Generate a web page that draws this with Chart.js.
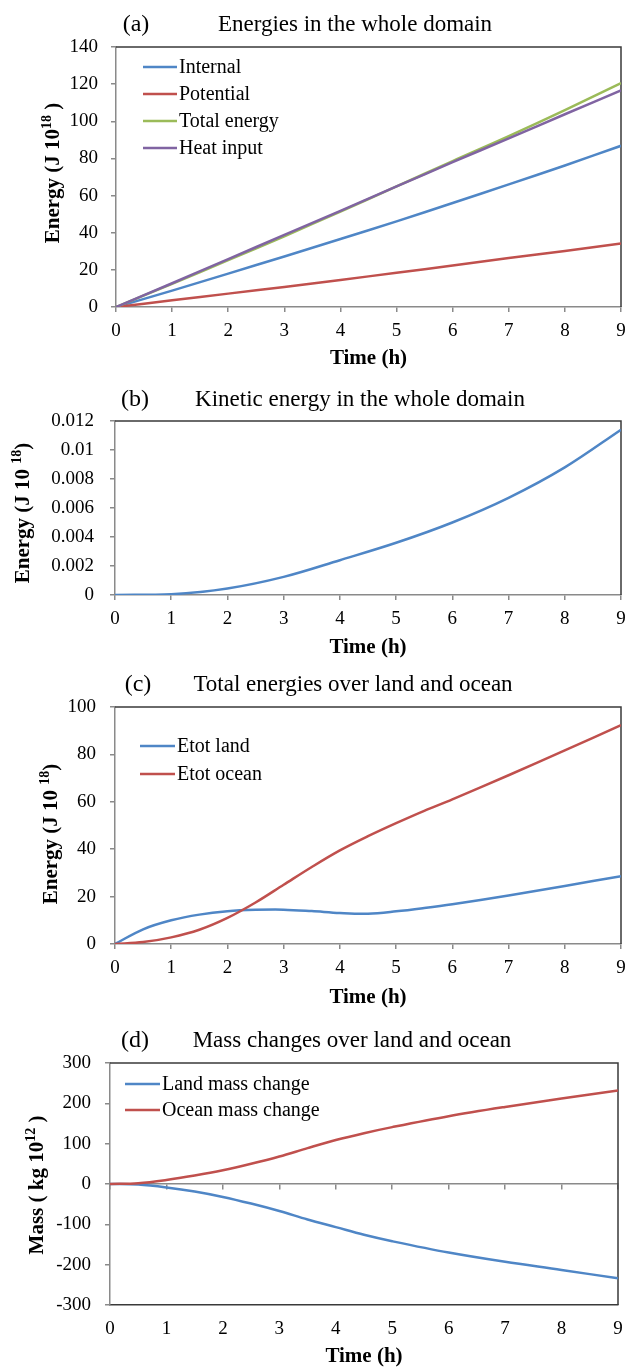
<!DOCTYPE html>
<html>
<head>
<meta charset="utf-8">
<title>Energy and mass budgets</title>
<script src="https://cdn.jsdelivr.net/npm/chart.js@4.4.1/dist/chart.umd.min.js"></script>
<style>
  html, body { margin: 0; padding: 0; background: #fff; }
  body { width: 627px; height: 1368px; position: relative; overflow: hidden; }
  .panel { position: absolute; left: 0; width: 627px; }
  .panel canvas { display: block; }
</style>
</head>
<body>
<div class="panel" style="top:0px;height:375px"><canvas id="chartA"></canvas></div>
<div class="panel" style="top:375px;height:290px"><canvas id="chartB"></canvas></div>
<div class="panel" style="top:665px;height:345px"><canvas id="chartC"></canvas></div>
<div class="panel" style="top:1010px;height:358px"><canvas id="chartD"></canvas></div>
<script>
// ---- data ----------------------------------------------------------------
const hours = [0, 1, 2, 3, 4, 5, 6, 7, 8, 9];

// (a) energies in the whole domain, J 10^18
const internalEnergy  = [0, 8.8, 18.0, 27.2, 36.6, 46.1, 56.0, 66.0, 76.2, 86.8];
const potentialEnergy = [0, 3.6, 7.2, 10.8, 14.6, 18.4, 22.3, 26.4, 30.2, 34.2];
const totalEnergy     = [0, 12.5, 25.2, 38.1, 51.4, 64.9, 78.6, 92.0, 106.0, 120.6];
const heatInput       = [0, 12.8, 25.8, 38.8, 51.8, 64.9, 78.0, 90.8, 103.8, 116.6];

// (b) kinetic energy in the whole domain, J 10^18
const kineticEnergy = [0, 0.00005, 0.00045, 0.00125, 0.0024, 0.0036, 0.0050, 0.0067, 0.0088, 0.0114];

// (c) total energies over land and ocean, J 10^18
const hoursLandOcean = [0, 0.5, 1, 1.5, 2, 2.5, 3, 3.5, 4, 4.5, 5, 5.5, 6, 7, 8, 9];
const etotLand  = [0, 6.2, 10.0, 12.4, 13.8, 14.4, 14.5, 13.9, 13.1, 12.8, 13.8, 15.2, 16.8, 20.5, 24.5, 28.6];
const etotOcean = [0, 0.8, 2.8, 6.0, 11.0, 17.5, 25.0, 32.5, 39.5, 45.5, 51.0, 56.2, 61.0, 71.2, 81.7, 92.3];

// (d) mass changes over land and ocean, kg 10^12
const hoursMass = [0, 0.5, 1, 1.5, 2, 2.5, 3, 3.5, 4, 4.5, 5, 6, 7, 8, 9];
const landMass  = [0, -1.5, -8.5, -18.5, -32, -48.5, -67, -88, -107, -126, -142, -170, -193, -213, -234];
const oceanMass = [0, 2, 10, 21, 34, 50, 68, 89, 109, 126, 141, 168, 191, 212, 232];

// tick values
const timeTicks    = [0, 1, 2, 3, 4, 5, 6, 7, 8, 9];
const energyTicks  = [0, 20, 40, 60, 80, 100, 120, 140];
const kineticTicks = [0, 0.002, 0.004, 0.006, 0.008, 0.01, 0.012];
const etotTicks    = [0, 20, 40, 60, 80, 100];
const massTicks    = [-300, -200, -100, 0, 100, 200, 300];

// ---- styling -------------------------------------------------------------
const BLUE = '#4F86C6', RED = '#C0504D', GREEN = '#9BBB59', PURPLE = '#8064A2';
const GREY = '#8a8a8a';
const FRAME = '#3a3a3a';
const SERIF = '"Liberation Serif", "Times New Roman", serif';
const TICK_FONT = { family: SERIF, size: 19 };

const pairs = (xs, ys) => xs.map((x, i) => ({ x: x, y: ys[i] }));

function series(label, xs, ys, color, order) {
  return {
    label: label,
    data: pairs(xs, ys),
    borderColor: color,
    backgroundColor: color,
    borderWidth: 2.5,
    pointRadius: 0,
    fill: false,
    tension: 0.35,
    order: order
  };
}

// Frame, titles, axis titles and in-plot legend
const decor = {
  id: 'decor',
  beforeDatasetsDraw(chart) {
    const ctx = chart.ctx, a = chart.chartArea;
    ctx.save();
    ctx.strokeStyle = FRAME;
    ctx.lineWidth = 1.5;
    ctx.beginPath();
    ctx.moveTo(a.left, a.top);
    ctx.lineTo(a.right, a.top);
    ctx.lineTo(a.right, a.bottom);
    ctx.stroke();
    ctx.restore();
  },
  afterDraw(chart) {
    const ctx = chart.ctx, a = chart.chartArea;
    const o = chart.options.plugins.decor;
    ctx.save();
    ctx.fillStyle = '#000';
    ctx.textBaseline = 'middle';

    // panel letter and title
    ctx.textAlign = 'center';
    ctx.font = '24px ' + SERIF;
    ctx.fillText(o.letter, o.letterX, o.titleY);
    ctx.font = '23px ' + SERIF;
    ctx.fillText(o.title, o.titleX, o.titleY);

    // x axis title
    ctx.font = 'bold 21px ' + SERIF;
    ctx.fillText('Time (h)', (a.left + a.right) / 2, o.xTitleY);

    // rotated y axis title with superscript
    ctx.translate(o.yTitleX, o.yTitleY);
    ctx.rotate(-Math.PI / 2);
    ctx.textAlign = 'left';
    ctx.textBaseline = 'alphabetic';
    let total = 0;
    const widths = o.yTitle.map(p => {
      ctx.font = 'bold ' + p.size + 'px ' + SERIF;
      const w = ctx.measureText(p.text).width;
      total += w;
      return w;
    });
    let x = -total / 2;
    const base = 7;
    o.yTitle.forEach((p, i) => {
      ctx.font = 'bold ' + p.size + 'px ' + SERIF;
      ctx.fillText(p.text, x, base - (p.rise || 0));
      x += widths[i];
    });
    ctx.setTransform(1, 0, 0, 1, 0, 0);

    // legend
    if (o.legend) {
      const L = o.legend;
      ctx.font = '20px ' + SERIF;
      ctx.textAlign = 'left';
      ctx.textBaseline = 'middle';
      chart.data.datasets.forEach((ds, i) => {
        const y = a.top + L.dy + i * L.gap;
        const x0 = a.left + L.dx;
        ctx.strokeStyle = ds.borderColor;
        ctx.lineWidth = 2.5;
        ctx.beginPath();
        ctx.moveTo(x0, y);
        ctx.lineTo(x0 + L.len, y);
        ctx.stroke();
        ctx.fillStyle = '#000';
        ctx.fillText(ds.label, x0 + L.len + 2, y + 1);
      });
    }
    ctx.restore();
  }
};

function axisScales(spec) {
  const gridOpts = { drawOnChartArea: false, drawTicks: true, tickLength: 5, color: GREY, lineWidth: 1.5 };
  const scales = {
    x: {
      type: 'linear', position: 'bottom', min: 0, max: 9,
      afterBuildTicks: s => { s.ticks = timeTicks.map(v => ({ value: v })); },
      afterFit: s => { s.height = spec.xH; s.paddingLeft = 0; s.paddingRight = 0; },
      grid: Object.assign({}, gridOpts, { drawTicks: !spec.zeroAxis }),
      border: { color: spec.zeroAxis ? FRAME : GREY, width: 1.5 },
      ticks: {
        padding: spec.zeroAxis ? 13 : 8, font: TICK_FONT, color: '#000',
        autoSkip: false, maxRotation: 0, callback: v => String(v)
      }
    },
    y: {
      type: 'linear', position: 'left',
      min: spec.yTicks[0], max: spec.yTicks[spec.yTicks.length - 1],
      afterBuildTicks: s => { s.ticks = spec.yTicks.map(v => ({ value: v })); },
      afterFit: s => { s.width = spec.yW; s.paddingTop = 0; s.paddingBottom = 0; },
      grid: gridOpts,
      border: { color: GREY, width: 1.5 },
      ticks: {
        padding: spec.yPad, font: TICK_FONT, color: '#000', autoSkip: false,
        callback: spec.yFmt || (v => String(v))
      }
    }
  };
  if (spec.zeroAxis) {
    // horizontal axis line through zero with downward tick marks
    scales.x2 = {
      type: 'linear', axis: 'x', position: { y: 0 }, min: 0, max: 9,
      afterBuildTicks: s => { s.ticks = timeTicks.map(v => ({ value: v })); },
      afterFit: s => { s.paddingLeft = 0; s.paddingRight = 0; },
      grid: gridOpts,
      border: { color: GREY, width: 1.5 },
      ticks: { display: false }
    };
  }
  return scales;
}

function makeChart(id, datasets, spec, decorOpts) {
  return new Chart(document.getElementById(id), {
    type: 'line',
    data: { datasets: datasets },
    options: {
      responsive: true,
      maintainAspectRatio: false,
      animation: false,
      events: [],
      layout: { padding: { top: spec.padTop, right: spec.padRight, bottom: 0, left: 0 } },
      scales: axisScales(spec),
      plugins: {
        legend: { display: false },
        tooltip: { enabled: false },
        title: { display: false },
        decor: decorOpts
      }
    },
    plugins: [decor]
  });
}

// (a)
makeChart('chartA', [
  series('Internal', hours, internalEnergy, BLUE, 3),
  series('Potential', hours, potentialEnergy, RED, 2),
  series('Total energy', hours, totalEnergy, GREEN, 1),
  series('Heat input', hours, heatInput, PURPLE, 0)
], { padTop: 47, padRight: 6, xH: 68, yW: 116, yPad: 13, yTicks: energyTicks }, {
  letter: '(a)', letterX: 136, title: 'Energies in the whole domain', titleX: 355, titleY: 25,
  xTitleY: 359, yTitleX: 52, yTitleY: 173,
  yTitle: [{ text: 'Energy (J 10', size: 21 }, { text: '18', size: 14, rise: 8 }, { text: ' )', size: 21 }],
  legend: { dx: 27, dy: 20, gap: 27, len: 34 }
});

// (b)
makeChart('chartB', [
  series('Kinetic energy', hours, kineticEnergy, BLUE, 0)
], { padTop: 46, padRight: 6, xH: 70, yW: 115, yPad: 16, yTicks: kineticTicks,
     yFmt: v => String(+Number(v).toFixed(3)) }, {
  letter: '(b)', letterX: 135, title: 'Kinetic energy in the whole domain', titleX: 360, titleY: 25,
  xTitleY: 273, yTitleX: 22, yTitleY: 138,
  yTitle: [{ text: 'Energy (J 10 ', size: 21 }, { text: '18', size: 14, rise: 8 }, { text: ')', size: 21 }]
});

// (c)
makeChart('chartC', [
  series('Etot land', hoursLandOcean, etotLand, BLUE, 1),
  series('Etot ocean', hoursLandOcean, etotOcean, RED, 0)
], { padTop: 42, padRight: 6, xH: 66, yW: 115, yPad: 14, yTicks: etotTicks }, {
  letter: '(c)', letterX: 138, title: 'Total energies over land and ocean', titleX: 353, titleY: 20,
  xTitleY: 333, yTitleX: 50, yTitleY: 169,
  yTitle: [{ text: 'Energy (J 10 ', size: 21 }, { text: '18', size: 14, rise: 8 }, { text: ')', size: 21 }],
  legend: { dx: 25, dy: 39, gap: 28, len: 35 }
});

// (d)
makeChart('chartD', [
  series('Land mass change', hoursMass, landMass, BLUE, 1),
  series('Ocean mass change', hoursMass, oceanMass, RED, 0)
], { padTop: 53, padRight: 9, xH: 63, yW: 110, yPad: 14, yTicks: massTicks, zeroAxis: true }, {
  letter: '(d)', letterX: 135, title: 'Mass changes over land and ocean', titleX: 352, titleY: 31,
  xTitleY: 347, yTitleX: 36, yTitleY: 175,
  yTitle: [{ text: 'Mass ( kg 10', size: 21 }, { text: '12', size: 14, rise: 8 }, { text: ' )', size: 21 }],
  legend: { dx: 15, dy: 21, gap: 26, len: 35 }
});
</script>
</body>
</html>
